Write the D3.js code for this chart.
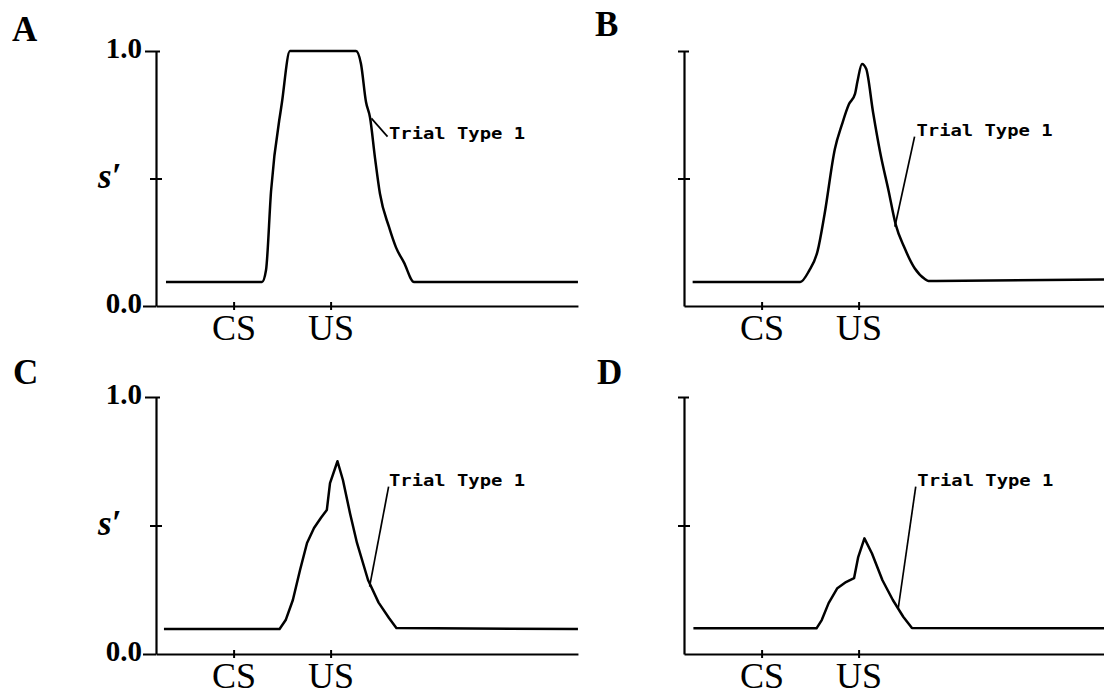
<!DOCTYPE html>
<html><head><meta charset="utf-8">
<script src="https://cdn.jsdelivr.net/npm/d3@7"></script>
<style>body{margin:0;background:#fff}</style>
</head><body>
<svg id="c" width="1104" height="697"></svg>
<script>
// ---- data ----
const panelNames = ["A", "B", "C", "D"];
const eventTicks = [8, 18];
const eventLabels = ["CS", "US"];
const yTicks = [0, 0.5, 1];
const yTickLabels = ["0.0", "", "1.0"];
const curveLabel = "Trial Type 1";

const timeA = [1.03, 10.93, 11.34, 11.86, 12.99, 13.81, 20.62, 21.13, 21.65, 22.06, 22.58, 23.09, 24.02, 24.74, 25.57, 26.6, 43.5];
const sA    = [0.094, 0.094, 0.14, 0.45, 0.80, 1.0, 1.0, 0.95, 0.80, 0.74, 0.58, 0.44, 0.31, 0.23, 0.17, 0.094, 0.094];

const timeB = [0.89, 11.98, 12.88, 13.77, 14.49, 15.56, 16.27, 16.99, 17.63, 17.88, 18.35, 18.78, 19.49, 20.21, 21.1, 21.82, 22.71, 23.78, 24.86, 25.2, 43.4];
const sB    = [0.094, 0.094, 0.137, 0.215, 0.36, 0.617, 0.71, 0.79, 0.832, 0.88, 0.949, 0.93, 0.76, 0.605, 0.45, 0.32, 0.23, 0.148, 0.105, 0.098, 0.104];

const timeC = [0.82, 12.74, 13.37, 14.11, 14.85, 15.57, 16.29, 17.01, 17.61, 17.94, 18.71, 19.27, 20.0, 20.72, 21.86, 22.95, 24.02, 24.78, 43.5];
const sC    = [0.097, 0.097, 0.132, 0.21, 0.327, 0.432, 0.49, 0.53, 0.56, 0.665, 0.75, 0.677, 0.548, 0.432, 0.288, 0.2, 0.14, 0.101, 0.097];

const timeD = [0.97, 13.66, 14.2, 14.91, 15.81, 16.7, 17.53, 17.96, 18.6, 19.38, 20.46, 21.53, 22.6, 23.5, 43.4];
const sD    = [0.1, 0.1, 0.132, 0.198, 0.256, 0.28, 0.295, 0.377, 0.45, 0.391, 0.287, 0.21, 0.145, 0.101, 0.1];

// leader lines [curve point, label end] and text anchor, in data units
const leaderA = [[22.21, 0.736], [23.87, 0.664]], textA = [24.02, 0.655];
const leaderB = [[21.74, 0.311], [23.77, 0.664]], textB = [23.97, 0.665];
const leaderC = [[22.02, 0.262], [23.98, 0.651]], textC = [24.02, 0.654];
const leaderD = [[22.09, 0.179], [23.89, 0.651]], textD = [24.06, 0.654];

// ---- layout ----
const svg = d3.select("#c");
const pxPerUnit = 9.7;
const layout = [
  {name: panelNames[0], t: timeA, s: sA, leader: leaderA, text: textA, x0: 156, tEnd: 43.5, yTop: 51, yBot: 306, labels: true, lx: 12, ly: 41, smooth: true},
  {name: panelNames[1], t: timeB, s: sB, leader: leaderB, text: textB, x0: 684, tEnd: 43.4, yTop: 51, yBot: 306, labels: false, lx: 595, ly: 36, smooth: true},
  {name: panelNames[2], t: timeC, s: sC, leader: leaderC, text: textC, x0: 156, tEnd: 43.5, yTop: 397, yBot: 654, labels: true, lx: 13, ly: 384, smooth: false},
  {name: panelNames[3], t: timeD, s: sD, leader: leaderD, text: textD, x0: 684, tEnd: 43.4, yTop: 397, yBot: 654, labels: false, lx: 597, ly: 384, smooth: false}
];

const serif = "'Liberation Serif', 'Times New Roman', serif";

layout.forEach(p => {
  const x = d3.scaleLinear().domain([0, p.tEnd]).range([p.x0, p.x0 + p.tEnd * pxPerUnit]);
  const y = d3.scaleLinear().domain([0, 1]).range([p.yBot, p.yTop]);
  const g = svg.append("g");

  // panel letter
  g.append("text").attr("x", p.lx).attr("y", p.ly)
    .attr("font-family", serif).attr("font-weight", "bold").attr("font-size", 35)
    .text(p.name);

  // y axis
  const ya = g.append("g").attr("transform", `translate(${p.x0},0)`)
    .call(d3.axisLeft(y).tickValues(yTicks).tickSizeOuter(0)
      .tickFormat((d, i) => p.labels ? yTickLabels[i] : ""));
  ya.select(".domain").attr("stroke", "#000").attr("stroke-width", 2.2);
  ya.selectAll(".tick line").attr("stroke", "#000").attr("stroke-width", 2)
    .attr("x1", d => d === 0 ? (p.labels ? -13 : 0) : d === 1 ? (p.labels ? -11 : -6) : -6)
    .attr("x2", d => d === 0 ? 0 : d === 1 ? (p.labels ? 4 : 5) : 6);
  ya.selectAll(".tick text").attr("font-family", serif).attr("font-weight", "bold")
    .attr("font-size", 29).attr("fill", "#000").attr("x", -14).attr("dy", "0.22em");

  // x axis
  const xa = g.append("g").attr("transform", `translate(0,${p.yBot})`)
    .call(d3.axisBottom(x).tickValues(eventTicks).tickSizeOuter(0)
      .tickFormat((d, i) => eventLabels[i]));
  xa.select(".domain").attr("stroke", "#000").attr("stroke-width", 2.2);
  xa.selectAll(".tick line").attr("stroke", "#000").attr("stroke-width", 2)
    .attr("y1", -4).attr("y2", 4);
  xa.selectAll(".tick text").attr("font-family", serif).attr("font-size", 36)
    .attr("fill", "#000").attr("y", 34).attr("dy", 0);

  // s' label
  if (p.labels) {
    g.append("text").attr("x", p.x0 - 58).attr("y", y(0.5) + 9)
      .attr("font-family", serif).attr("font-style", "italic").attr("font-weight", "bold")
      .attr("font-size", 35).text("s\u2032");
  }

  // curve
  const pts = p.t.map((t, i) => [t, p.s[i]]);
  g.append("path").datum(pts)
    .attr("fill", "none").attr("stroke", "#000").attr("stroke-width", 2.5)
    .attr("stroke-linejoin", "round")
    .attr("d", d3.line().curve(p.smooth ? d3.curveMonotoneX : d3.curveLinear)
      .x(d => x(d[0])).y(d => y(d[1])));

  // leader + label
  g.append("path").datum(p.leader)
    .attr("fill", "none").attr("stroke", "#000").attr("stroke-width", 1.7)
    .attr("d", d3.line().x(d => x(d[0])).y(d => y(d[1])));
  g.append("text").attr("x", x(p.text[0])).attr("y", y(p.text[1]))
    .attr("font-family", "'DejaVu Sans Mono', 'Liberation Mono', monospace")
    .attr("font-weight", "bold").attr("font-size", 16)
    .attr("textLength", 136).attr("lengthAdjust", "spacingAndGlyphs")
    .text(curveLabel);
});
</script>
</body></html>
